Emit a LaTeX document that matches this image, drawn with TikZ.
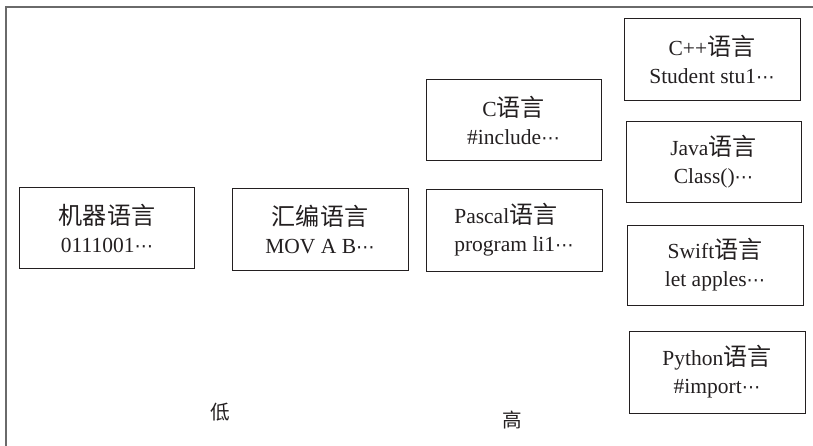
\documentclass[tikz,border=0pt]{standalone}
\usepackage{fontspec}
\setmainfont{Liberation Serif}
\newfontfamily\cjk[Scale=1.12]{Noto Sans CJK SC}
\newfontfamily\dotsfont{DejaVu Sans}
\newcommand{\mydots}{{\dotsfont\fontsize{18.5}{28}\selectfont ⋯}}
\definecolor{ink}{HTML}{231F20}
\definecolor{framegray}{HTML}{6A6A6A}
\begin{document}
\begin{tikzpicture}[x=1pt,y=-1pt,
  langbox/.style={draw=ink,line width=0.9pt,minimum width=175pt,minimum height=81pt,
    inner sep=0pt,align=center,font=\fontsize{21.5}{28}\selectfont,text=ink},
  levellabel/.style={font=\fontsize{17.5}{22}\selectfont\cjk,text=ink,inner sep=0pt}]
\useasboundingbox (0,0) rectangle (813,446);
\draw[framegray,line width=2pt] (6,446) -- (6,7) -- (813,7);
\node[langbox] (jq) at (107,228) {{\cjk 机器语言}\\0111001\mydots};
\node[langbox,minimum width=176pt,minimum height=82pt] (hb) at (320,229) {{\cjk 汇编语言}\\MOV A B\mydots};
\node[langbox] (c) at (513.5,120) {C{\cjk 语言}\\\#include\mydots};
\node[langbox,minimum width=176pt,minimum height=82pt,align=left] (pascal) at (514,230) {Pascal{\cjk 语言}\\program li1\mydots};
\node[langbox,minimum width=176pt,minimum height=82pt] (cpp) at (712,59) {C++{\cjk 语言}\\Student stu1\mydots};
\node[langbox] (java) at (713.5,161.5) {Java{\cjk 语言}\\Class()\mydots};
\node[langbox,minimum width=176pt,minimum height=80pt] (swift) at (715,265) {Swift{\cjk 语言}\\let apples\mydots};
\node[langbox,minimum width=176pt,minimum height=82pt] (python) at (717,372) {Python{\cjk 语言}\\\#import\mydots};
\node[levellabel] (low) at (220,412) {低};
\node[levellabel] (high) at (512,420) {高};
\end{tikzpicture}
\end{document}
